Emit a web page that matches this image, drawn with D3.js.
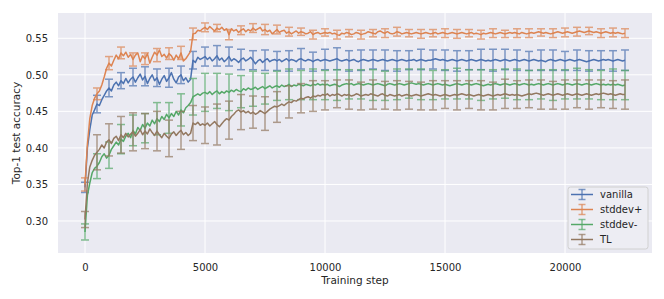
<!DOCTYPE html>
<html>
<head>
<meta charset="utf-8">
<script src="https://cdn.jsdelivr.net/npm/d3@7"></script>
<style>
  body { margin: 0; background: #fff; }
  text { font-family: "DejaVu Sans", sans-serif; fill: #262626; }
</style>
</head>
<body>
<div id="chart"></div>
<script>

// training steps: every 100 steps, error bars every 500 steps
var stepSize = 100;
var errEvery = 5;
var seriesNames = ['vanilla', 'stddev+', 'stddev-', 'TL'];
var xTicks = [0, 5000, 10000, 15000, 20000];
var yTicks = [0.30, 0.35, 0.40, 0.45, 0.50, 0.55];

var vanilla = [
    0.346, 0.400, 0.425, 0.445, 0.452, 0.460, 0.458, 0.466, 0.472, 0.478,
    0.482, 0.478, 0.486, 0.490, 0.485, 0.492, 0.488, 0.495, 0.489, 0.494,
    0.497, 0.490, 0.496, 0.501, 0.493, 0.498, 0.488, 0.495, 0.500, 0.492,
    0.496, 0.487, 0.494, 0.499, 0.491, 0.496, 0.503, 0.494, 0.489, 0.497,
    0.500, 0.492, 0.496, 0.490, 0.494, 0.520, 0.517, 0.524, 0.521, 0.523,
    0.525, 0.521, 0.524, 0.519, 0.522, 0.526, 0.520, 0.523, 0.518, 0.521,
    0.525, 0.519, 0.522, 0.520, 0.517, 0.521, 0.523, 0.519, 0.521, 0.524,
    0.520, 0.515, 0.519, 0.521, 0.517, 0.520, 0.522, 0.518, 0.520, 0.521,
    0.519, 0.521, 0.518, 0.520, 0.522, 0.519, 0.521, 0.520, 0.518, 0.521,
    0.522, 0.520, 0.519, 0.521, 0.520, 0.518, 0.520, 0.521, 0.519, 0.520,
    0.521, 0.520, 0.519, 0.520, 0.521, 0.522, 0.520, 0.519, 0.520, 0.521,
    0.519, 0.520, 0.521, 0.519, 0.518, 0.520, 0.521, 0.520, 0.519, 0.520,
    0.521, 0.520, 0.519, 0.520, 0.521, 0.520, 0.519, 0.520, 0.521, 0.520,
    0.519, 0.520, 0.521, 0.520, 0.519, 0.520, 0.520, 0.521, 0.519, 0.520,
    0.521, 0.520, 0.519, 0.520, 0.520, 0.521, 0.522, 0.521, 0.520, 0.521,
    0.520, 0.519, 0.520, 0.521, 0.520, 0.519, 0.520, 0.521, 0.520, 0.519,
    0.520, 0.521, 0.520, 0.519, 0.520, 0.521, 0.520, 0.519, 0.520, 0.519,
    0.520, 0.521, 0.520, 0.519, 0.520, 0.521, 0.520, 0.519, 0.520, 0.521,
    0.520, 0.519, 0.520, 0.521, 0.520, 0.519, 0.520, 0.521, 0.520, 0.519,
    0.520, 0.519, 0.518, 0.520, 0.521, 0.520, 0.519, 0.520, 0.521, 0.520,
    0.519, 0.520, 0.521, 0.520, 0.519, 0.520, 0.521, 0.520, 0.519, 0.518,
    0.519, 0.520, 0.521, 0.520, 0.519, 0.520, 0.521, 0.520, 0.521, 0.520,
    0.519, 0.520, 0.521, 0.520, 0.519, 0.520
];
var stddevPlus = [
    0.350, 0.405, 0.440, 0.458, 0.468, 0.474, 0.478, 0.486, 0.497, 0.509,
    0.516, 0.512, 0.520, 0.527, 0.522, 0.530, 0.526, 0.531, 0.524, 0.528,
    0.521, 0.527, 0.530, 0.518, 0.526, 0.522, 0.529, 0.516, 0.524, 0.531,
    0.527, 0.534, 0.525, 0.528, 0.523, 0.529, 0.526, 0.520, 0.527, 0.522,
    0.530, 0.519, 0.522, 0.527, 0.532, 0.556, 0.557, 0.561, 0.560, 0.563,
    0.565, 0.562, 0.566, 0.563, 0.560, 0.564, 0.562, 0.565, 0.561, 0.563,
    0.555, 0.563, 0.560, 0.562, 0.558, 0.561, 0.563, 0.559, 0.562, 0.560,
    0.564, 0.561, 0.563, 0.565, 0.560, 0.562, 0.559, 0.561, 0.556, 0.559,
    0.562, 0.558, 0.560, 0.561, 0.557, 0.559, 0.556, 0.558, 0.560, 0.557,
    0.559, 0.558, 0.556, 0.557, 0.559, 0.555, 0.557, 0.558, 0.556, 0.557,
    0.558, 0.557, 0.558, 0.556, 0.557, 0.555, 0.554, 0.557, 0.556, 0.558,
    0.557, 0.555, 0.556, 0.558, 0.557, 0.555, 0.556, 0.557, 0.559, 0.558,
    0.557, 0.556, 0.559, 0.560, 0.558, 0.557, 0.559, 0.557, 0.556, 0.557,
    0.559, 0.558, 0.556, 0.557, 0.558, 0.557, 0.556, 0.557, 0.558, 0.557,
    0.556, 0.557, 0.558, 0.557, 0.556, 0.557, 0.558, 0.556, 0.557, 0.558,
    0.557, 0.556, 0.557, 0.558, 0.557, 0.556, 0.557, 0.558, 0.557, 0.556,
    0.557, 0.558, 0.556, 0.557, 0.556, 0.555, 0.557, 0.556, 0.557, 0.558,
    0.557, 0.556, 0.557, 0.558, 0.557, 0.556, 0.557, 0.558, 0.557, 0.558,
    0.557, 0.556, 0.558, 0.557, 0.556, 0.557, 0.558, 0.557, 0.558, 0.559,
    0.558, 0.557, 0.558, 0.557, 0.556, 0.557, 0.558, 0.559, 0.558, 0.557,
    0.558, 0.559, 0.558, 0.557, 0.558, 0.559, 0.560, 0.559, 0.558, 0.559,
    0.560, 0.559, 0.558, 0.559, 0.558, 0.557, 0.558, 0.559, 0.558, 0.557,
    0.558, 0.557, 0.558, 0.557, 0.556, 0.557
];
var stddevMinus = [
    0.285, 0.335, 0.352, 0.366, 0.372, 0.375, 0.380, 0.388, 0.392, 0.386,
    0.390, 0.398, 0.403, 0.408, 0.404, 0.412, 0.409, 0.416, 0.420, 0.414,
    0.424, 0.419, 0.428, 0.424, 0.432, 0.427, 0.434, 0.430, 0.438, 0.433,
    0.440, 0.436, 0.443, 0.439, 0.446, 0.441, 0.447, 0.443, 0.450, 0.445,
    0.452, 0.448, 0.455, 0.458, 0.462, 0.470, 0.472, 0.474, 0.472, 0.475,
    0.476, 0.474, 0.477, 0.473, 0.476, 0.478, 0.474, 0.477, 0.475, 0.478,
    0.476, 0.479, 0.477, 0.480, 0.478, 0.477, 0.481, 0.479, 0.482, 0.480,
    0.481, 0.483, 0.480, 0.482, 0.484, 0.481, 0.483, 0.485, 0.482, 0.484,
    0.485, 0.483, 0.486, 0.484, 0.485, 0.487, 0.484, 0.486, 0.485, 0.487,
    0.486, 0.485, 0.487, 0.486, 0.485, 0.487, 0.486, 0.488, 0.486, 0.487,
    0.486, 0.487, 0.485, 0.486, 0.487, 0.486, 0.484, 0.486, 0.487, 0.488,
    0.487, 0.488, 0.486, 0.487, 0.488, 0.487, 0.486, 0.487, 0.488, 0.487,
    0.486, 0.487, 0.488, 0.487, 0.486, 0.485, 0.487, 0.488, 0.487, 0.486,
    0.487, 0.488, 0.487, 0.486, 0.487, 0.488, 0.489, 0.488, 0.487, 0.488,
    0.487, 0.486, 0.487, 0.488, 0.487, 0.486, 0.487, 0.488, 0.487, 0.486,
    0.487, 0.486, 0.485, 0.486, 0.487, 0.488, 0.487, 0.486, 0.487, 0.488,
    0.487, 0.486, 0.487, 0.488, 0.487, 0.486, 0.485, 0.486, 0.487, 0.486,
    0.487, 0.488, 0.487, 0.486, 0.487, 0.488, 0.487, 0.486, 0.487, 0.488,
    0.487, 0.486, 0.487, 0.488, 0.487, 0.486, 0.487, 0.486, 0.487, 0.488,
    0.487, 0.486, 0.487, 0.488, 0.487, 0.486, 0.487, 0.488, 0.487, 0.486,
    0.487, 0.488, 0.487, 0.486, 0.487, 0.488, 0.487, 0.486, 0.487, 0.488,
    0.487, 0.486, 0.487, 0.488, 0.487, 0.486, 0.487, 0.486, 0.487, 0.486,
    0.487, 0.486, 0.487, 0.486, 0.485, 0.486
];
var tl = [
    0.302, 0.352, 0.374, 0.383, 0.390, 0.394, 0.398, 0.404, 0.400, 0.408,
    0.411, 0.406, 0.413, 0.416, 0.410, 0.418, 0.414, 0.420, 0.415, 0.419,
    0.422, 0.416, 0.420, 0.425, 0.418, 0.423, 0.419, 0.426, 0.421, 0.417,
    0.423, 0.418, 0.414, 0.420, 0.416, 0.413, 0.419, 0.422, 0.417, 0.421,
    0.424, 0.418, 0.421, 0.417, 0.420, 0.434, 0.432, 0.435, 0.431, 0.433,
    0.431, 0.434, 0.430, 0.433, 0.436, 0.432, 0.429, 0.433, 0.437, 0.440,
    0.438, 0.443, 0.446, 0.450, 0.452, 0.449, 0.451, 0.448, 0.450, 0.447,
    0.449, 0.446, 0.448, 0.451, 0.449, 0.447, 0.450, 0.453, 0.455, 0.457,
    0.456, 0.458, 0.460, 0.458, 0.461, 0.463, 0.462, 0.465, 0.464, 0.466,
    0.468, 0.467, 0.469, 0.470, 0.468, 0.471, 0.470, 0.472, 0.471, 0.473,
    0.472, 0.474, 0.471, 0.473, 0.472, 0.474, 0.473, 0.471, 0.473, 0.472,
    0.473, 0.471, 0.472, 0.474, 0.473, 0.471, 0.472, 0.473, 0.472, 0.474,
    0.473, 0.472, 0.471, 0.473, 0.474, 0.472, 0.471, 0.473, 0.472, 0.471,
    0.472, 0.473, 0.471, 0.472, 0.473, 0.472, 0.471, 0.472, 0.473, 0.472,
    0.471, 0.472, 0.473, 0.474, 0.473, 0.472, 0.473, 0.472, 0.471, 0.472,
    0.473, 0.472, 0.471, 0.472, 0.473, 0.472, 0.473, 0.474, 0.473, 0.472,
    0.473, 0.472, 0.471, 0.472, 0.473, 0.472, 0.471, 0.472, 0.473, 0.472,
    0.471, 0.472, 0.473, 0.472, 0.473, 0.474, 0.473, 0.472, 0.473, 0.472,
    0.473, 0.472, 0.471, 0.472, 0.473, 0.474, 0.473, 0.474, 0.475, 0.474,
    0.473, 0.472, 0.473, 0.474, 0.473, 0.472, 0.473, 0.474, 0.473, 0.472,
    0.473, 0.474, 0.473, 0.472, 0.473, 0.474, 0.473, 0.472, 0.473, 0.474,
    0.473, 0.472, 0.473, 0.474, 0.473, 0.474, 0.475, 0.474, 0.473, 0.474,
    0.473, 0.472, 0.473, 0.474, 0.473, 0.473
];

// half-widths of the error bars, one every 500 steps
var vanillaErr = [
    0.007, 0.012, 0.012, 0.011, 0.012, 0.013, 0.012, 0.013, 0.012, 0.012,
    0.013, 0.014, 0.013, 0.014, 0.013, 0.014, 0.013, 0.014, 0.014, 0.013,
    0.014, 0.015, 0.014, 0.014, 0.013, 0.014, 0.014, 0.013, 0.014, 0.013,
    0.014, 0.014, 0.013, 0.014, 0.015, 0.014, 0.014, 0.013, 0.014, 0.014,
    0.013, 0.014, 0.014, 0.013, 0.014, 0.014
];
var stddevPlusErr = [
    0.009, 0.008, 0.009, 0.008, 0.009, 0.008, 0.009, 0.008, 0.009, 0.008,
    0.006, 0.005, 0.007, 0.006, 0.006, 0.007, 0.006, 0.006, 0.005, 0.006,
    0.005, 0.006, 0.005, 0.006, 0.005, 0.006, 0.006, 0.005, 0.006, 0.005,
    0.006, 0.006, 0.005, 0.006, 0.006, 0.005, 0.006, 0.006, 0.005, 0.006,
    0.006, 0.006, 0.005, 0.006, 0.006, 0.006
];
var stddevMinusErr = [
    0.011, 0.017, 0.018, 0.020, 0.021, 0.020, 0.022, 0.021, 0.022, 0.025,
    0.026, 0.024, 0.025, 0.022, 0.024, 0.021, 0.020, 0.021, 0.020, 0.021,
    0.020, 0.021, 0.020, 0.020, 0.021, 0.020, 0.021, 0.020, 0.021, 0.020,
    0.020, 0.021, 0.020, 0.021, 0.020, 0.020, 0.021, 0.020, 0.020, 0.021,
    0.020, 0.021, 0.020, 0.020, 0.021, 0.020
];
var tlErr = [
    0.011, 0.024, 0.022, 0.025, 0.026, 0.024, 0.027, 0.025, 0.026, 0.024,
    0.025, 0.028, 0.026, 0.024, 0.022, 0.023, 0.021, 0.022, 0.020, 0.021,
    0.020, 0.019, 0.020, 0.019, 0.020, 0.019, 0.020, 0.019, 0.019, 0.020,
    0.019, 0.020, 0.019, 0.020, 0.019, 0.020, 0.019, 0.019, 0.020, 0.019,
    0.020, 0.019, 0.020, 0.019, 0.019, 0.020
];

var seriesValues = [vanilla, stddevPlus, stddevMinus, tl];
var seriesErrors = [vanillaErr, stddevPlusErr, stddevMinusErr, tlErr];

var width = 664, height = 299;
var margin = {top: 13, right: 12, bottom: 46, left: 58};
var color = d3.scaleOrdinal().domain(seriesNames)
    .range(['#4C72B0', '#DD8452', '#55A868', '#937860']);

var svg = d3.select('#chart')
    .append('svg')
    .attr('width', width)
    .attr('height', height);

var x = d3.scaleLinear()
    .domain([-1125, 23625])
    .range([margin.left, width - margin.right]);
var y = d3.scaleLinear()
    .domain([0.2562, 0.5846])
    .range([height - margin.bottom, margin.top]);

// Axes background
svg.append('rect')
    .attr('x', margin.left)
    .attr('y', margin.top)
    .attr('width', width - margin.left - margin.right)
    .attr('height', height - margin.top - margin.bottom)
    .attr('fill', '#EAEAF2');

// Grid
svg.append('g').selectAll('line')
    .data(xTicks)
    .enter()
    .append('line')
    .attr('x1', d => x(d)).attr('x2', d => x(d))
    .attr('y1', margin.top).attr('y2', height - margin.bottom)
    .attr('stroke', '#fff').attr('stroke-width', 1);
svg.append('g').selectAll('line')
    .data(yTicks)
    .enter()
    .append('line')
    .attr('x1', margin.left).attr('x2', width - margin.right)
    .attr('y1', d => y(d)).attr('y2', d => y(d))
    .attr('stroke', '#fff').attr('stroke-width', 1);

// Tick labels
var xAxis = svg.append('g')
    .attr('transform', 'translate(0,' + (height - margin.bottom) + ')')
    .call(d3.axisBottom(x).tickValues(xTicks).tickSize(0).tickPadding(11).tickFormat(d3.format('d')));
var yAxis = svg.append('g')
    .attr('transform', 'translate(' + margin.left + ',0)')
    .call(d3.axisLeft(y).tickValues(yTicks).tickSize(0).tickPadding(10).tickFormat(d3.format('.2f')));
[xAxis, yAxis].forEach(function (a) {
    a.select('.domain').remove();
    a.selectAll('text')
        .style('font-family', '"DejaVu Sans", sans-serif')
        .style('font-size', '10px')
        .attr('fill', '#262626');
});

svg.append('text')
    .attr('x', (margin.left + width - margin.right) / 2)
    .attr('y', 284)
    .attr('text-anchor', 'middle')
    .style('font-size', '10.5px')
    .text('Training step');
svg.append('text')
    .attr('transform', 'translate(20,' + ((margin.top + height - margin.bottom) / 2) + ') rotate(-90)')
    .attr('text-anchor', 'middle')
    .style('font-size', '10.5px')
    .text('Top-1 test accuracy');

// Lines with error bars
var line = d3.line()
    .x((d, i) => x(i * stepSize))
    .y(d => y(d));

var capHalf = 4;

seriesNames.forEach(function (name, s) {
    var vals = seriesValues[s];
    var errs = seriesErrors[s];
    var g = svg.append('g');
    var bars = errs.map(function (e, k) {
        var i = k * errEvery;
        return {step: i * stepSize, v: vals[i], e: e};
    });

    g.append('path')
        .datum(vals)
        .attr('d', line)
        .attr('fill', 'none')
        .attr('stroke', color(name))
        .attr('stroke-width', 1.5)
        .attr('stroke-linejoin', 'round');

    var eb = g.selectAll('.eb')
        .data(bars)
        .enter()
        .append('g')
        .attr('opacity', 0.7);
    eb.append('line')
        .attr('x1', d => x(d.step)).attr('x2', d => x(d.step))
        .attr('y1', d => y(d.v - d.e)).attr('y2', d => y(d.v + d.e))
        .attr('stroke', color(name)).attr('stroke-width', 1.5);
    [-1, 1].forEach(function (sign) {
        eb.append('line')
            .attr('x1', d => x(d.step) - capHalf).attr('x2', d => x(d.step) + capHalf)
            .attr('y1', d => y(d.v + sign * d.e)).attr('y2', d => y(d.v + sign * d.e))
            .attr('stroke', color(name)).attr('stroke-width', 1.5);
    });
});

// Legend
var legend = svg.append('g')
    .attr('transform', 'translate(568,187)');
legend.append('rect')
    .attr('width', 80)
    .attr('height', 62)
    .attr('rx', 2.5)
    .attr('fill', '#EDEDF3')
    .attr('stroke', '#D0D0D0')
    .attr('stroke-width', 1);
var rows = legend.selectAll('.row')
    .data(seriesNames)
    .enter()
    .append('g')
    .attr('transform', (d, i) => 'translate(0,' + (7.5 + i * 15) + ')');
rows.append('line')
    .attr('x1', 3).attr('x2', 25).attr('y1', 0).attr('y2', 0)
    .attr('stroke', d => color(d)).attr('stroke-width', 1.5);
rows.append('line')
    .attr('x1', 14).attr('x2', 14).attr('y1', -5).attr('y2', 5)
    .attr('stroke', d => color(d)).attr('stroke-width', 1.5).attr('opacity', 0.7);
[-5, 5].forEach(function (dy) {
    rows.append('line')
        .attr('x1', 10.5).attr('x2', 17.5).attr('y1', dy).attr('y2', dy)
        .attr('stroke', d => color(d)).attr('stroke-width', 1.5).attr('opacity', 0.7);
});
rows.append('text')
    .attr('x', 32)
    .attr('y', 3.5)
    .style('font-size', '10px')
    .text(d => d);

</script>
</body>
</html>
